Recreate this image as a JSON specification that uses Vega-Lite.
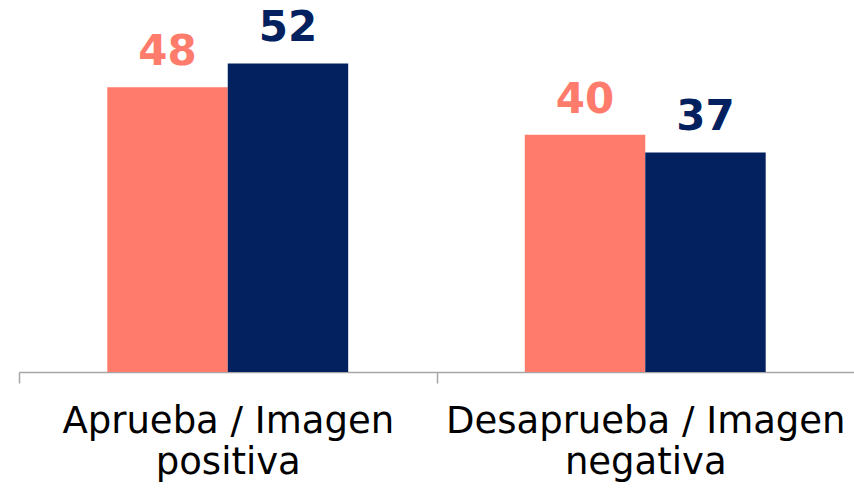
{
  "$schema": "https://vega.github.io/schema/vega-lite/v6.json",
  "width": 835,
  "height": 356,
  "autosize": "none",
  "padding": {"left": 19, "top": 16, "right": 0, "bottom": 116},
  "background": "white",
  "config": {"view": {"stroke": null}},
  "data": {
    "values": [
      {"categoria": "Aprueba / Imagen positiva", "serie": "1", "valor": 48},
      {"categoria": "Aprueba / Imagen positiva", "serie": "2", "valor": 52},
      {"categoria": "Desaprueba / Imagen negativa", "serie": "1", "valor": 40},
      {"categoria": "Desaprueba / Imagen negativa", "serie": "2", "valor": 37}
    ]
  },
  "encoding": {
    "x": {
      "field": "categoria",
      "type": "nominal",
      "sort": null,
      "scale": {"paddingInner": 0.423, "paddingOuter": 0.2115},
      "axis": {
        "title": null,
        "labelAngle": 0,
        "labelExpr": "datum.value == 'Aprueba / Imagen positiva' ? ['Aprueba / Imagen', 'positiva'] : ['Desaprueba / Imagen', 'negativa']",
        "labelFont": "DejaVu Sans",
        "labelFontSize": 37,
        "labelColor": "#000000",
        "labelLineHeight": 41,
        "labelPadding": 20,
        "labelBaseline": "top",
        "labelLimit": 0,
        "labelOverlap": false,
        "tickOffset": -208.75,
        "labelOffset": 208.75,
        "tickSize": 11,
        "tickColor": "#A6A6A6",
        "domainColor": "#A6A6A6",
        "domainWidth": 1.5,
        "tickWidth": 1.5
      }
    },
    "xOffset": {"field": "serie", "type": "nominal", "sort": null},
    "y": {
      "field": "valor",
      "type": "quantitative",
      "scale": {"domain": [0, 60], "nice": false},
      "axis": null
    },
    "color": {
      "field": "serie",
      "type": "nominal",
      "scale": {"range": ["#FF7B6C", "#03215E"]},
      "legend": null
    }
  },
  "layer": [
    {"mark": {"type": "bar"}},
    {
      "mark": {
        "type": "text",
        "dy": -22,
        "baseline": "alphabetic",
        "fontSize": 42,
        "fontWeight": "bold",
        "font": "DejaVu Sans"
      },
      "encoding": {"text": {"field": "valor", "type": "quantitative"}}
    }
  ]
}
